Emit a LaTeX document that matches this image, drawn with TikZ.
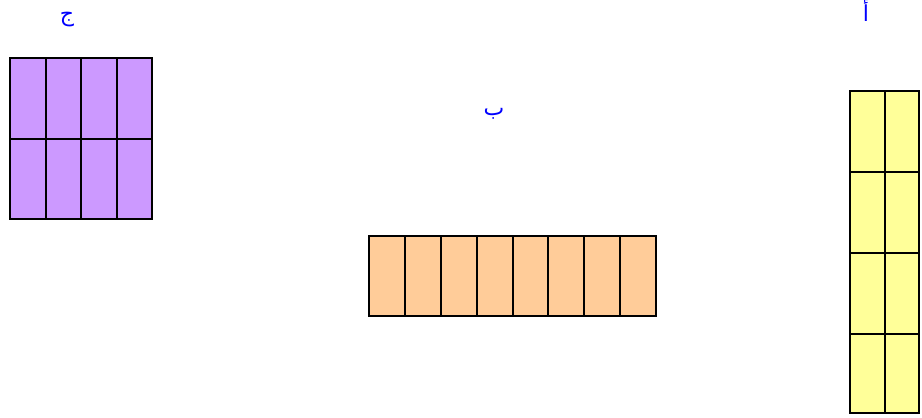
\documentclass[tikz,border=0pt]{standalone}
\usepackage{fontspec}
\newfontfamily\arabicfont[Script=Arabic]{DejaVu Sans}
\TeXXeTstate=1
\definecolor{purp}{HTML}{CC99FF}
\definecolor{oran}{HTML}{FFCC99}
\definecolor{yell}{HTML}{FFFF99}
\begin{document}
\begin{tikzpicture}[x=1pt,y=-1pt,
  gridline/.style={draw=black,line width=2pt},
  lbl/.style={text=blue,font=\arabicfont\fontsize{22}{26}\selectfont,inner sep=0pt}]
\useasboundingbox (0,0) rectangle (922,418);
% purple 4x2
\filldraw[fill=purp,gridline] (10,58) rectangle (152,219);
\foreach \x in {45.5,81,116.5} \draw[gridline] (\x,58) -- (\x,219);
\draw[gridline] (10,139) -- (152,139);
% orange 8x1
\filldraw[fill=oran,gridline] (369,236) rectangle (656,316);
\foreach \i in {1,...,7} \draw[gridline] ({369+\i*35.875},236) -- ({369+\i*35.875},316);
% yellow 2x4
\filldraw[fill=yell,gridline] (850,91) rectangle (919,413);
\draw[gridline] (884.5,91) -- (884.5,413);
\foreach \y in {172,253,334} \draw[gridline] (850,\y) -- (919,\y);
% labels
\node[lbl] (j) at (67,20) {\beginR ج\endR};
\node[lbl] (b) at (494,114) {\beginR ب\endR};
\node[lbl] (a) at (866,11) {\beginR أ\endR};
\end{tikzpicture}
\end{document}
